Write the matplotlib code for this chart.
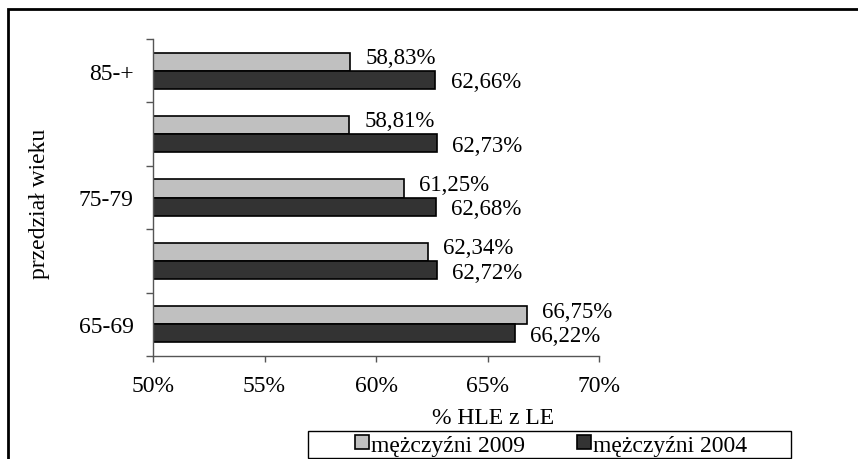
import numpy as np
import matplotlib
matplotlib.use("Agg")
import matplotlib.pyplot as plt
from matplotlib.lines import Line2D
from matplotlib.patches import Rectangle
from matplotlib.ticker import FixedLocator, FuncFormatter

plt.rcParams["font.family"] = ["Liberation Serif", "DejaVu Serif"]

# Data
age_groups = ["65-69", "70-74", "75-79", "80-84", "85-+"]
men_2009 = [66.75, 62.34, 61.25, 58.81, 58.83]
men_2004 = [66.22, 62.72, 62.68, 62.73, 62.66]
series_names = ["mężczyźni 2009", "mężczyźni 2004"]
x_ticks = [50, 55, 60, 65, 70]

light = "#C0C0C0"
dark = "#333333"
fs = 17

W, H = 858, 460
fig = plt.figure(figsize=(W / 100, H / 100), dpi=100)
ax = fig.add_axes([153 / W, 1 - 357 / H, 446 / W, 317 / H])

y = np.arange(len(age_groups))
bh = 0.285
ax.barh(y + bh / 2, men_2009, height=bh, left=0, color=light, edgecolor="black", linewidth=1.2)
ax.barh(y - bh / 2, men_2004, height=bh, left=0, color=dark, edgecolor="black", linewidth=1.2)

# value labels: upper one lifted a bit, lower one dropped a bit
for yi, v in zip(y, men_2009):
    ax.annotate(f"{v:.2f}%".replace(".", ","), (v, yi + bh / 2), xytext=(11, 3),
                textcoords="offset points", va="center", ha="left", fontsize=16.5)
for yi, v in zip(y, men_2004):
    ax.annotate(f"{v:.2f}%".replace(".", ","), (v, yi - bh / 2), xytext=(11, -1.5),
                textcoords="offset points", va="center", ha="left", fontsize=16.5)

ax.set_xlim(50, 70)
ax.set_ylim(-0.5, len(age_groups) - 0.5)
ax.set_xticks(x_ticks)
ax.xaxis.set_major_formatter(FuncFormatter(lambda v, p: f"{v:.0f}%"))

# only every other category label shown, ticks on the boundaries
ax.set_yticks(y[::2])
ax.set_yticklabels(age_groups[::2])
ax.yaxis.set_minor_locator(FixedLocator(np.arange(-0.5, len(age_groups), 1.0)))
ax.tick_params(axis="y", which="major", length=0, pad=14, labelsize=fs)
ax.tick_params(axis="y", which="minor", length=5, width=1, color="#555555")
ax.tick_params(axis="x", which="major", length=4.5, width=1, color="#555555", pad=9, labelsize=fs)

for s in ["top", "right"]:
    ax.spines[s].set_visible(False)
for s in ["left", "bottom"]:
    ax.spines[s].set_color("#555555")
    ax.spines[s].set_linewidth(1)

fig.text(40 / W, 1 - 204 / H, "przedział wieku", rotation=90, ha="center", va="center", fontsize=fs)
fig.text(493 / W, 1 - 419 / H, "% HLE z LE", ha="center", va="center", fontsize=fs)

# legend with a square frame
handles = [Line2D([], [], ls="none", marker="s", markersize=10, markerfacecolor=c,
                  markeredgecolor="black", markeredgewidth=1.2) for c in (light, dark)]
fig.legend(handles, series_names, loc="center", bbox_to_anchor=(551 / W, 1 - 446 / H),
           ncol=2, frameon=False, fontsize=fs, handlelength=0.6, handletextpad=0.1,
           columnspacing=2.2, borderpad=0)
fig.patches.append(Rectangle((308 / W, 1 - 459 / H), 483 / W, 27 / H, transform=fig.transFigure,
                             fill=False, edgecolor="black", linewidth=1))

# outer chart border (top and left visible)
fig.patches.append(Rectangle((8 / W, -0.1), 1.2, 1 - 10 / H + 0.1, transform=fig.transFigure,
                             fill=False, edgecolor="black", linewidth=2))

fig.savefig("out.png", dpi=100)
